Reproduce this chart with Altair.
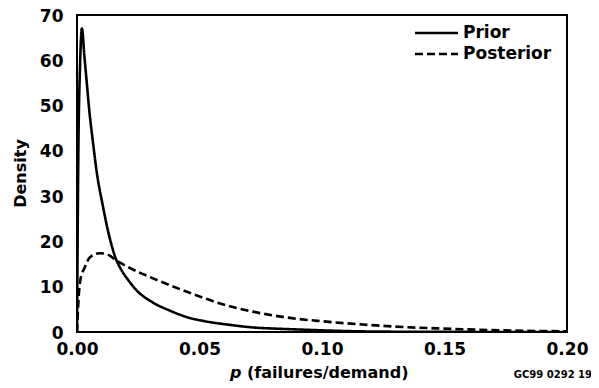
import altair as alt
import pandas as pd

# ---- data ----
prior_p = [0.0, 0.0006, 0.0012, 0.002, 0.003, 0.004, 0.005, 0.0065, 0.008, 0.0105,
           0.0128, 0.016, 0.0175, 0.021, 0.0245, 0.031, 0.038, 0.046, 0.052, 0.062,
           0.072, 0.083, 0.093, 0.104, 0.115, 0.135, 0.155, 0.2]
prior_d = [0.0, 42.0, 58.0, 67.0, 61.0, 55.0, 49.0, 42.0, 35.5, 28.0,
           22.0, 16.0, 14.3, 11.4, 9.1, 6.5, 4.7, 3.1, 2.4, 1.6,
           1.0, 0.7, 0.5, 0.3, 0.15, 0.05, 0.02, 0.0]

post_p = [0.0, 0.0005, 0.0013, 0.0032, 0.0053, 0.0093, 0.0125, 0.0163, 0.021, 0.031,
          0.0448, 0.0584, 0.0718, 0.0856, 0.1004, 0.114, 0.135, 0.15, 0.175, 0.2]
post_d = [0.0, 6.0, 11.3, 14.3, 16.5, 17.4, 17.1, 15.7, 14.3, 11.85,
          8.9, 6.3, 4.5, 3.2, 2.35, 1.75, 1.05, 0.75, 0.35, 0.15]

series_names = ["Prior", "Posterior"]
legend_rows = [0, 1]
x_ticks = [0.0, 0.05, 0.10, 0.15, 0.20]
y_ticks = [0, 10, 20, 30, 40, 50, 60, 70]

df = pd.concat([
    pd.DataFrame({"p": prior_p, "density": prior_d, "series": series_names[0]}),
    pd.DataFrame({"p": post_p, "density": post_d, "series": series_names[1]}),
], ignore_index=True)

FONT = "DejaVu Sans"
TFONT = "DejaVu Sans"

lines = alt.Chart(df).mark_line(
    interpolate="monotone", strokeWidth=2.6, color="black", clip=True
).encode(
    x=alt.X("p:Q",
            scale=alt.Scale(domain=[0, 0.2], nice=False, zero=True),
            axis=alt.Axis(values=x_ticks, format=".2f", title=None, grid=False,
                          domain=False, ticks=False, labelPadding=9,
                          labelFontSize=17, labelFontWeight="bold", labelColor="black",
                          labelFont=FONT, labelFlush=False)),
    y=alt.Y("density:Q",
            scale=alt.Scale(domain=[0, 70], nice=False),
            axis=alt.Axis(values=y_ticks, title="Density", grid=False,
                          domain=False, ticks=False, labelPadding=14, labelOffset=1,
                          labelFontSize=17, labelFontWeight="bold", labelColor="black",
                          labelFont=FONT, titleFont=TFONT, titleFontSize=16,
                          titleFontWeight="bold", titleColor="black",
                          titleAngle=-90, titleX=-57, titleY=158,
                          titleAlign="center", titleBaseline="middle")),
    strokeDash=alt.StrokeDash("series:N",
                              scale=alt.Scale(domain=series_names, range=[[1, 0], [8, 4]]),
                              legend=None),
    detail="series:N",
)

# legend (top-right inside the plot)
leg_df = pd.DataFrame({"series": series_names, "row": legend_rows})
row_scale = alt.Scale(domain=[0, 1], range=[18, 39])
leg_lines = alt.Chart(leg_df).mark_rule(color="black", strokeWidth=2.5).encode(
    x=alt.value(338), x2=alt.value(381),
    y=alt.Y("row:Q", scale=row_scale, axis=None),
    strokeDash=alt.StrokeDash("series:N",
                              scale=alt.Scale(domain=series_names, range=[[1, 0], [8, 4]]),
                              legend=None),
)
leg_text = alt.Chart(leg_df).mark_text(
    align="left", baseline="middle", font=TFONT, fontSize=17, fontWeight="bold", color="black"
).encode(
    x=alt.value(386),
    y=alt.Y("row:Q", scale=row_scale, axis=None),
    text="series:N",
)

# x-axis title with italic p
xt_p = alt.Chart(pd.DataFrame({"t": ["p"]})).mark_text(
    align="left", baseline="alphabetic", font=TFONT, fontSize=16, fontWeight="bold",
    fontStyle="italic", color="black"
).encode(x=alt.value(153), y=alt.value(363), text="t:N")
xt_rest = alt.Chart(pd.DataFrame({"t": ["(failures/demand)"]})).mark_text(
    align="left", baseline="alphabetic", font=TFONT, fontSize=16, fontWeight="bold", color="black"
).encode(x=alt.value(170), y=alt.value(363), text="t:N")

code_txt = alt.Chart(pd.DataFrame({"t": ["GC99 0292 19"]})).mark_text(
    align="right", baseline="middle", font=FONT, fontSize=10, fontWeight="bold", color="black"
).encode(x=alt.value(515), y=alt.value(360), text="t:N")

chart = alt.layer(lines, leg_lines, leg_text, xt_p, xt_rest, code_txt).resolve_scale(
    strokeDash="independent", y="independent"
).properties(
    width=490, height=317,
    autosize=alt.AutoSizeParams(type="none"),
    padding={"left": 69, "top": 7, "right": 24, "bottom": 52},
    background="white",
).configure_view(
    stroke="black", strokeWidth=2
)

chart.save("out.html", embed_options={"renderer": "svg", "actions": False})
